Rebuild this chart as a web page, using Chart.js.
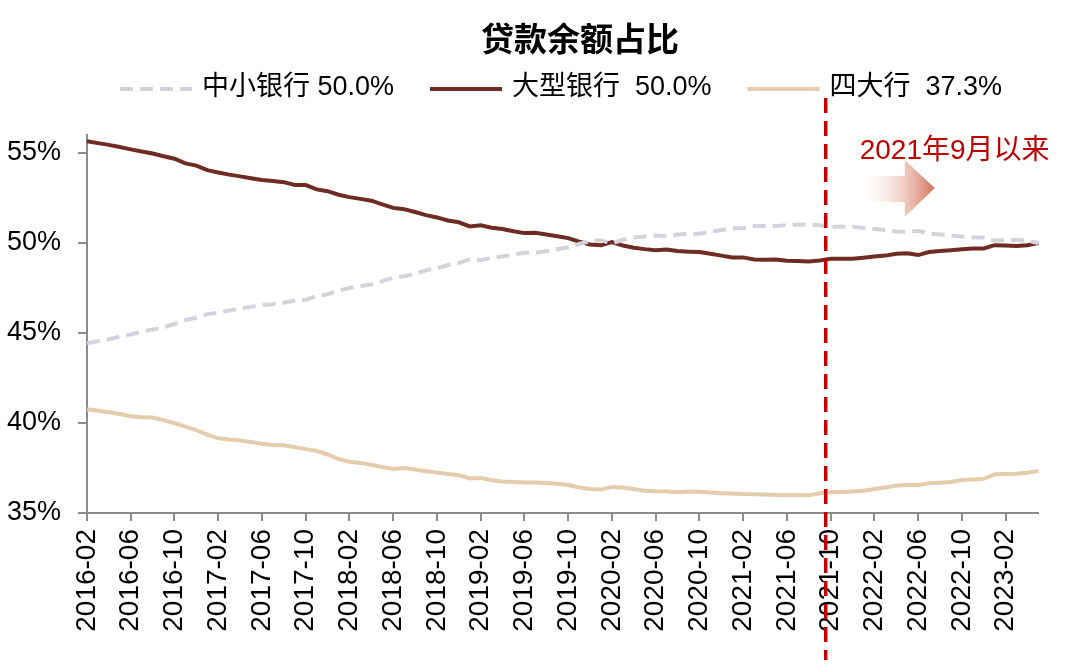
<!DOCTYPE html>
<html>
<head>
<meta charset="utf-8">
<script src="https://cdn.jsdelivr.net/npm/chart.js@4"></script>
<style>
  body { margin: 0; background: #fff; }
  #wrap { width: 1080px; height: 669px; position: relative; }
</style>
</head>
<body>
<div id="wrap"><canvas id="grafico"></canvas></div>
<script>
// months 2016-02 .. 2023-05
const meses = [];
for (let i = 0; i < 88; i++) {
    const ano = 2016 + Math.floor((1 + i) / 12);
    const mes = (1 + i) % 12 + 1;
    meses.push(ano + '-' + String(mes).padStart(2, '0'));
}

const pequenosMedios = [44.43, 44.55, 44.65, 44.8, 44.92, 45.07, 45.2, 45.32, 45.5, 45.72, 45.85, 46.05,
    46.12, 46.25, 46.35, 46.45, 46.55, 46.6, 46.68, 46.8, 46.85, 47.05, 47.15, 47.35,
    47.5, 47.6, 47.7, 47.88, 48.08, 48.15, 48.3, 48.48, 48.6, 48.78, 48.88, 49.1,
    49.05, 49.18, 49.25, 49.36, 49.46, 49.45, 49.55, 49.65, 49.76, 49.95, 50.1, 50.15,
    49.98, 50.18, 50.3, 50.36, 50.42, 50.38, 50.47, 50.5, 50.52, 50.62, 50.72, 50.82,
    50.82, 50.94, 50.95, 50.94, 51.0, 51.02, 51.04, 50.98, 50.9, 50.9, 50.9, 50.84,
    50.78, 50.72, 50.64, 50.6, 50.68, 50.52, 50.47, 50.42, 50.36, 50.32, 50.3, 50.14,
    50.15, 50.18, 50.13, 50.0];

const grandes = [55.65, 55.55, 55.45, 55.33, 55.2, 55.08, 54.97, 54.82, 54.68, 54.42, 54.3, 54.05,
    53.92, 53.8, 53.7, 53.6, 53.5, 53.45, 53.38, 53.22, 53.22, 52.98, 52.88, 52.68,
    52.55, 52.45, 52.35, 52.15, 51.95, 51.88, 51.72, 51.55, 51.42, 51.25, 51.15, 50.92,
    50.98, 50.85, 50.78, 50.65, 50.55, 50.57, 50.47, 50.38, 50.27, 50.08, 49.92, 49.87,
    50.05, 49.86, 49.74, 49.66, 49.6, 49.64, 49.55, 49.52, 49.5, 49.4, 49.3, 49.2,
    49.2, 49.08, 49.07, 49.08, 49.02, 49.0, 48.97, 49.03, 49.13, 49.12, 49.12, 49.18,
    49.25, 49.3, 49.4, 49.43, 49.33, 49.5, 49.55, 49.6, 49.65, 49.69, 49.7, 49.88,
    49.86, 49.83, 49.88, 50.0];

const quatroGrandes = [40.76, 40.68, 40.6, 40.5, 40.38, 40.32, 40.3, 40.15, 40.0, 39.8, 39.6, 39.35,
    39.15, 39.08, 39.03, 38.95, 38.85, 38.78, 38.76, 38.65, 38.55, 38.45, 38.25, 38.0,
    37.85, 37.78, 37.68, 37.55, 37.45, 37.5, 37.42, 37.32, 37.25, 37.17, 37.1, 36.92,
    36.95, 36.82, 36.75, 36.72, 36.7, 36.7, 36.66, 36.62, 36.55, 36.42, 36.33, 36.3,
    36.45, 36.42, 36.33, 36.24, 36.21, 36.2, 36.15, 36.2, 36.18, 36.14, 36.1, 36.09,
    36.05, 36.04, 36.03, 36.0, 35.99, 35.98, 35.98, 36.1, 36.15, 36.17, 36.2, 36.24,
    36.33, 36.42, 36.52, 36.56, 36.55, 36.65, 36.68, 36.72, 36.83, 36.86, 36.9, 37.15,
    37.16, 37.18, 37.24, 37.33];

const nomesSeries = ['中小银行 50.0%', '大型银行  50.0%', '四大行  37.3%'];
const ticksY = [35, 40, 45, 50, 55];
const titulo = '贷款余额占比';
const textoMarca = '2021年9月以来';
const posicaoMarca = meses.indexOf('2021-10') - 0.45;

const fonte = "'Liberation Sans', 'Noto Sans CJK SC', sans-serif";
Chart.defaults.font.family = fonte;
Chart.defaults.color = '#000';

// titulo, legenda e marcacao de 2021-09 desenhados a mao
const extras = {
    id: 'extras',
    afterDraw(chart) {
        const ctx = chart.ctx;
        const area = chart.chartArea;
        const x = chart.scales.x.getPixelForValue(posicaoMarca);

        ctx.save();
        ctx.fillStyle = '#000';
        ctx.textAlign = 'center';
        ctx.textBaseline = 'middle';
        ctx.font = "bold 33px 'Noto Sans CJK SC', sans-serif";
        ctx.fillText(titulo, 580, 38);

        // legenda
        ctx.font = '27px ' + fonte;
        const linha = 72, gap = 10, entre = 36;
        let total = 0;
        chart.data.datasets.forEach((ds, i) => {
            total += linha + gap + ctx.measureText(ds.label).width + (i ? entre : 0);
        });
        let lx = 561 - total / 2;
        const ly = 89;
        chart.data.datasets.forEach((ds, i) => {
            if (i) lx += entre;
            ctx.beginPath();
            ctx.strokeStyle = ds.borderColor;
            ctx.lineWidth = 4;
            ctx.setLineDash(ds.borderDash || []);
            ctx.moveTo(lx, ly);
            ctx.lineTo(lx + linha, ly);
            ctx.stroke();
            lx += linha + gap;
            ctx.textAlign = 'left';
            ctx.fillText(ds.label, lx, ly - 1);
            lx += ctx.measureText(ds.label).width;
        });

        // linha vermelha
        ctx.beginPath();
        ctx.setLineDash([15, 8]);
        ctx.strokeStyle = '#C00000';
        ctx.lineWidth = 3.5;
        ctx.moveTo(x, area.top - 37);
        ctx.lineTo(x, 660);
        ctx.stroke();
        ctx.setLineDash([]);

        // seta
        const grad = ctx.createLinearGradient(x + 31, 0, x + 109, 0);
        grad.addColorStop(0, 'rgba(255,255,255,0)');
        grad.addColorStop(1, '#D4735B');
        ctx.fillStyle = grad;
        ctx.beginPath();
        ctx.moveTo(x + 31, area.top + 41);
        ctx.lineTo(x + 79, area.top + 41);
        ctx.lineTo(x + 79, area.top + 25);
        ctx.lineTo(x + 109, area.top + 53);
        ctx.lineTo(x + 79, area.top + 82);
        ctx.lineTo(x + 79, area.top + 67);
        ctx.lineTo(x + 31, area.top + 67);
        ctx.closePath();
        ctx.fill();

        ctx.fillStyle = '#C00000';
        ctx.font = '28px ' + fonte;
        ctx.textAlign = 'left';
        ctx.fillText(textoMarca, x + 34, area.top + 16);
        ctx.restore();
    }
};

const grafico = document.getElementById('grafico');

new Chart(grafico, {
    type: 'line',
    data: {
        labels: meses,
        datasets: [{
            label: nomesSeries[0],
            data: pequenosMedios,
            borderColor: '#D3D3DB',
            borderWidth: 4,
            borderDash: [13, 7],
        }, {
            label: nomesSeries[1],
            data: grandes,
            borderColor: '#6E2C23',
            borderWidth: 4,
        }, {
            label: nomesSeries[2],
            data: quatroGrandes,
            borderColor: '#E4CCAC',
            borderWidth: 4,
        }],
    },
    options: {
        responsive: true,
        maintainAspectRatio: false,
        animation: false,
        elements: { point: { radius: 0 }, line: { tension: 0 } },
        layout: { padding: { top: 135, right: 37, left: 0, bottom: 0 } },
        plugins: {
            legend: { display: false },
            title: { display: false },
            tooltip: { enabled: false }
        },
        scales: {
            x: {
                afterFit: (s) => { s.height = 156; },
                border: { display: true, color: '#8C8C8C', width: 2 },
                grid: {
                    drawOnChartArea: false,
                    drawTicks: true,
                    tickLength: 8,
                    lineWidth: 2,
                    color: (c) => (c.index % 4 === 0 ? '#8C8C8C' : 'rgba(0,0,0,0)')
                },
                ticks: {
                    autoSkip: false,
                    minRotation: 90,
                    maxRotation: 90,
                    padding: 8,
                    font: { size: 28 },
                    callback: (v, i) => (i % 4 === 0 ? meses[i] : '')
                }
            },
            y: {
                min: 35,
                max: 56,
                afterFit: (s) => { s.width = 87; },
                afterBuildTicks: (s) => {
                    s.ticks = ticksY.map(v => ({ value: v }));
                },
                border: { display: true, color: '#8C8C8C', width: 2 },
                grid: {
                    drawOnChartArea: false,
                    drawTicks: true,
                    tickLength: 9,
                    lineWidth: 2,
                    color: '#8C8C8C'
                },
                ticks: {
                    padding: 17,
                    font: { size: 27 },
                    callback: (v) => v + '%'
                }
            }
        }
    },
    plugins: [extras]
});
</script>
</body>
</html>
